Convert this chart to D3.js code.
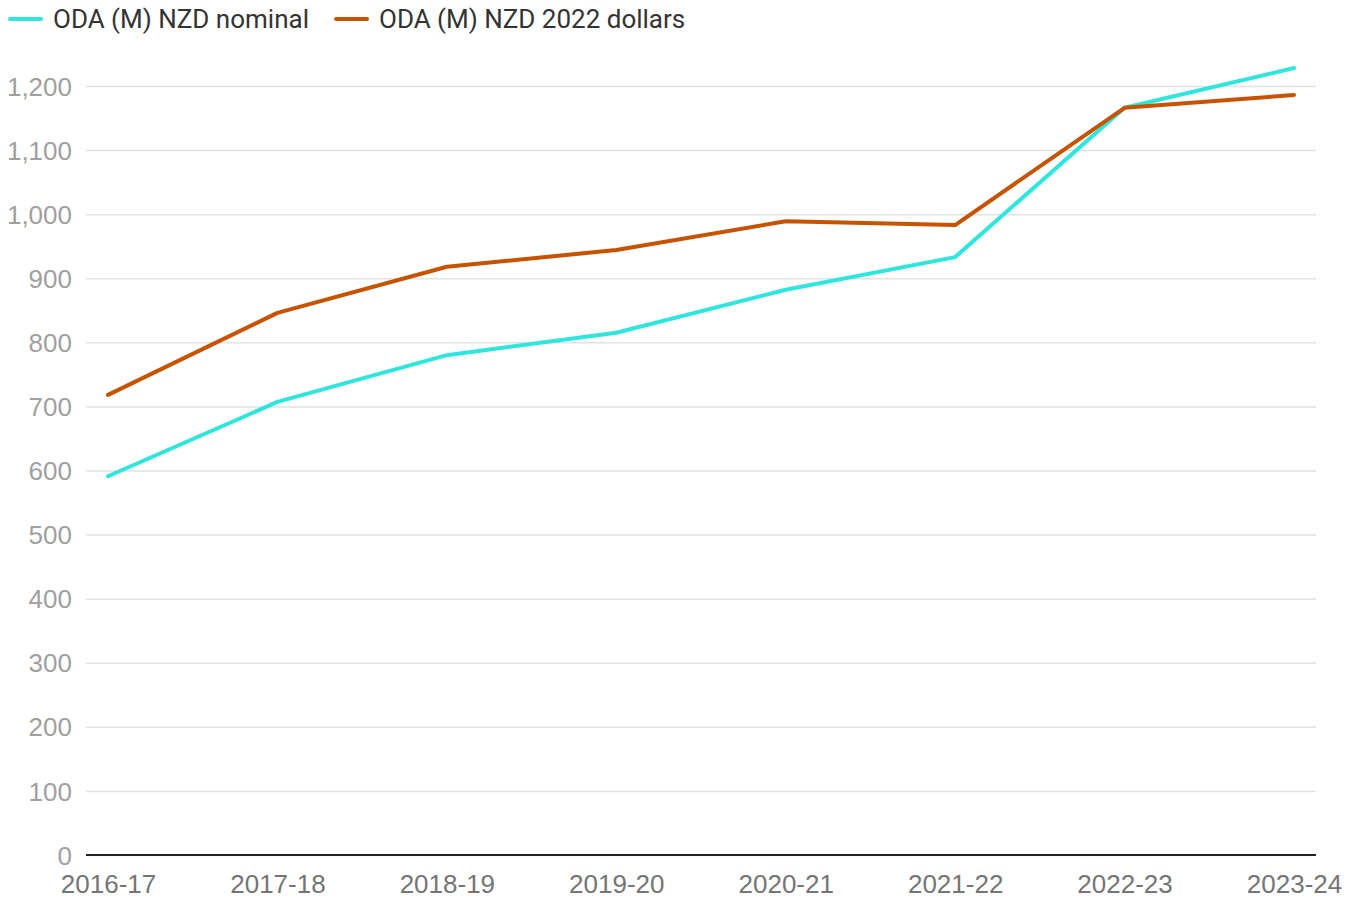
<!DOCTYPE html>
<html>
<head>
<meta charset="utf-8">
<script src="https://cdn.jsdelivr.net/npm/d3@7"></script>
<style>
  body { margin: 0; background: #fff; }
  svg { font-family: Roboto, "Noto Sans", sans-serif; }
</style>
</head>
<body>
<svg id="chart"></svg>
<script>
// Data
const years = ["2016-17", "2017-18", "2018-19", "2019-20", "2020-21", "2021-22", "2022-23", "2023-24"];
const nominal = [591, 707, 780, 815, 882, 933, 1166, 1228];
const dollars2022 = [718, 846, 918, 944, 989, 983, 1166, 1186];
const yTicks = [0, 100, 200, 300, 400, 500, 600, 700, 800, 900, 1000, 1100, 1200];
const seriesNames = ["ODA (M) NZD nominal", "ODA (M) NZD 2022 dollars"];
const colors = ["#2ee6dc", "#c75300"];

const width = 1360;
const height = 898;
const margin = { left: 86, right: 44, top: 86, bottom: 43 };

const svg = d3.select("#chart")
    .attr("width", width)
    .attr("height", height);

// Scales
const xScale = d3.scalePoint()
    .domain(years)
    .range([108, 1294]);

const yScale = d3.scaleLinear()
    .domain([0, 1200])
    .range([height - margin.bottom, margin.top]);

// Gridlines + y labels
const yAxis = d3.axisLeft(yScale)
    .tickValues(yTicks)
    .tickSize(-(width - margin.right - margin.left))
    .tickPadding(14)
    .tickFormat(d3.format(","));

svg.append("g")
    .attr("id", "y-axis")
    .attr("transform", "translate(" + margin.left + ",0)")
    .call(yAxis)
    .call(g => g.select(".domain").remove())
    .call(g => g.selectAll(".tick line").attr("stroke", "#e2e2e2").attr("stroke-width", 1.5))
    .call(g => g.selectAll(".tick text")
        .attr("fill", "#a0a0a0")
        .attr("font-size", 26)
        .attr("dy", "0.35em"));

// Zero baseline
svg.append("line")
    .attr("x1", margin.left)
    .attr("x2", width - margin.right)
    .attr("y1", yScale(0))
    .attr("y2", yScale(0))
    .attr("stroke", "#222")
    .attr("stroke-width", 2);

// X axis labels
const xAxis = d3.axisBottom(xScale).tickSize(0).tickPadding(20);
svg.append("g")
    .attr("id", "x-axis")
    .attr("transform", "translate(0," + yScale(0) + ")")
    .call(xAxis)
    .call(g => g.select(".domain").remove())
    .call(g => g.selectAll(".tick text")
        .attr("fill", "#757575")
        .attr("font-size", 26));

// Lines
const line = d3.line()
    .x((d, i) => xScale(years[i]))
    .y(d => yScale(d));

[nominal, dollars2022].forEach((s, k) => {
    svg.append("path")
        .datum(s)
        .attr("fill", "none")
        .attr("stroke", colors[k])
        .attr("stroke-width", 4)
        .attr("stroke-linecap", "round")
        .attr("stroke-linejoin", "round")
        .attr("d", line);
});

// Legend
const legendX = [8, 334];
seriesNames.forEach((name, k) => {
    const g = svg.append("g").attr("transform", "translate(" + legendX[k] + ",19)");
    g.append("line")
        .attr("x1", 2).attr("x2", 33)
        .attr("stroke", colors[k])
        .attr("stroke-width", 4)
        .attr("stroke-linecap", "round");
    g.append("text")
        .attr("x", 45)
        .attr("dy", "0.35em")
        .attr("font-size", 26)
        .attr("fill", "#333")
        .text(name);
});
</script>
</body>
</html>
